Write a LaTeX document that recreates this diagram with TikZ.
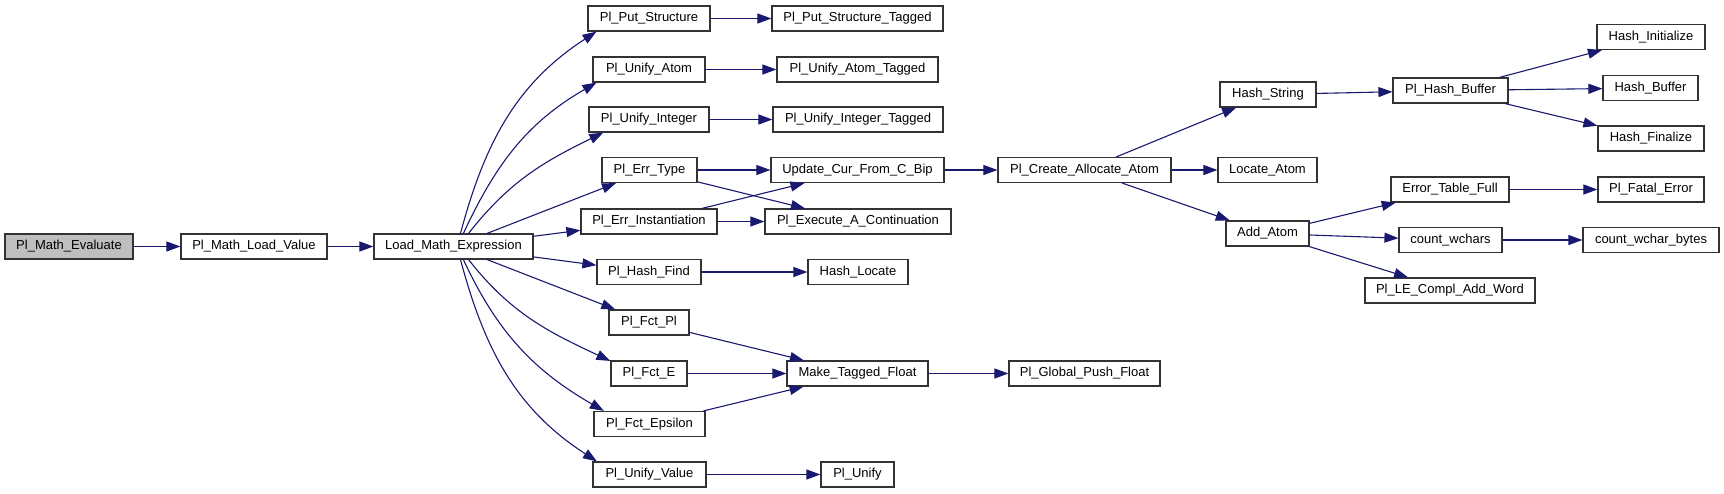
\documentclass[tikz,border=0pt]{standalone}
\usepackage{fontspec}
\setmainfont{Liberation Sans}
\usetikzlibrary{arrows.meta}

\definecolor{edgeblue}{HTML}{191970}
\definecolor{rootgray}{HTML}{BFBFBF}

\begin{document}
\begin{tikzpicture}[x=1pt, y=1pt,
  every node/.style={rectangle, inner sep=0pt, minimum height=25pt, font=\fontsize{13}{15}\selectfont},
  fn/.style={draw=black!80, fill=white, line width=1.2pt},
  root/.style={draw=black!80, fill=rootgray, line width=1.2pt},
  call/.style={draw=edgeblue, line width=1.1pt, -{Triangle[length=14pt, width=10pt]}},
  ]
  \useasboundingbox (0,0) rectangle (1724,-493);
  \node[root, minimum width=128pt] (eval) at (69,-246.5) {Pl\_Math\_Evaluate};
  \node[fn, minimum width=146pt] (loadv) at (254,-246.5) {Pl\_Math\_Load\_Value};
  \node[fn, minimum width=159pt] (expr) at (453.5,-246.5) {Load\_Math\_Expression};
  \node[fn, minimum width=122pt] (puts) at (649,-18.5) {Pl\_Put\_Structure};
  \node[fn, minimum width=171pt] (putst) at (857.5,-18.5) {Pl\_Put\_Structure\_Tagged};
  \node[fn, minimum width=112pt] (ua) at (649,-69.5) {Pl\_Unify\_Atom};
  \node[fn, minimum width=161pt] (uat) at (857.5,-69.5) {Pl\_Unify\_Atom\_Tagged};
  \node[fn, minimum width=120pt] (ui) at (649,-119.5) {Pl\_Unify\_Integer};
  \node[fn, minimum width=170pt] (uit) at (858,-119.5) {Pl\_Unify\_Integer\_Tagged};
  \node[fn, minimum width=95pt] (et) at (649.5,-170) {Pl\_Err\_Type};
  \node[fn, minimum width=173pt] (upd) at (857.5,-170) {Update\_Cur\_From\_C\_Bip};
  \node[fn, minimum width=136pt] (ei) at (649,-221.5) {Pl\_Err\_Instantiation};
  \node[fn, minimum width=186pt] (cont) at (858,-221.5) {Pl\_Execute\_A\_Continuation};
  \node[fn, minimum width=104pt] (hf) at (649,-272) {Pl\_Hash\_Find};
  \node[fn, minimum width=100pt] (hl) at (858,-272) {Hash\_Locate};
  \node[fn, minimum width=80pt] (fpi) at (649,-322.5) {Pl\_Fct\_Pl};
  \node[fn, minimum width=76pt] (fe) at (649,-373.5) {Pl\_Fct\_E};
  \node[fn, minimum width=141pt] (mtf) at (857.5,-373.5) {Make\_Tagged\_Float};
  \node[fn, minimum width=111pt] (feps) at (649.5,-424) {Pl\_Fct\_Epsilon};
  \node[fn, minimum width=113pt] (uv) at (649.5,-474.5) {Pl\_Unify\_Value};
  \node[fn, minimum width=73pt] (un) at (857.5,-474.5) {Pl\_Unify};
  \node[fn, minimum width=151pt] (gpf) at (1084.5,-373.5) {Pl\_Global\_Push\_Float};
  \node[fn, minimum width=173pt] (caa) at (1084.5,-170) {Pl\_Create\_Allocate\_Atom};
  \node[fn, minimum width=96pt] (hs) at (1268,-94.5) {Hash\_String};
  \node[fn, minimum width=99pt] (loc) at (1267.5,-170) {Locate\_Atom};
  \node[fn, minimum width=83pt] (add) at (1267.5,-233.5) {Add\_Atom};
  \node[fn, minimum width=115pt] (hbuf) at (1450.5,-90.5) {Pl\_Hash\_Buffer};
  \node[fn, minimum width=108pt] (hini) at (1651,-37) {Hash\_Initialize};
  \node[fn, minimum width=95pt] (hb) at (1650.5,-88) {Hash\_Buffer};
  \node[fn, minimum width=106pt] (hfin) at (1651,-138.5) {Hash\_Finalize};
  \node[fn, minimum width=118pt] (etf) at (1450,-189.5) {Error\_Table\_Full};
  \node[fn, minimum width=106pt] (fatal) at (1651,-189.5) {Pl\_Fatal\_Error};
  \node[fn, minimum width=103pt] (cw) at (1450.5,-240) {count\_wchars};
  \node[fn, minimum width=136pt] (cwb) at (1651,-240) {count\_wchar\_bytes};
  \node[fn, minimum width=170pt] (lecaw) at (1450,-290.5) {Pl\_LE\_Compl\_Add\_Word};
  \draw[call] (eval) -- (loadv);
  \draw[call] (loadv) -- (expr);
  \draw[call] (expr.62) to[out=75, in=213] (puts.194);
  \draw[call] (expr.53) to[out=65, in=210] (ua.194);
  \draw[call] (expr.41) to[out=52, in=206] (ui.196);
  \draw[call] (expr) -- (et);
  \draw[call] (expr) -- (ei);
  \draw[call] (expr) -- (hf);
  \draw[call] (expr) -- (fpi);
  \draw[call] (expr.-41) to[out=-52, in=155] (fe.162);
  \draw[call] (expr.-53) to[out=-65, in=150] (feps.164);
  \draw[call] (expr.-62) to[out=-75, in=147] (uv.166);
  \draw[call] (puts) -- (putst);
  \draw[call] (ua) -- (uat);
  \draw[call] (ui) -- (uit);
  \draw[call] (et) -- (upd);
  \draw[call] (et) -- (cont);
  \draw[call] (ei) -- (upd);
  \draw[call] (ei) -- (cont);
  \draw[call] (hf) -- (hl);
  \draw[call] (fpi) -- (mtf);
  \draw[call] (fe) -- (mtf);
  \draw[call] (feps) -- (mtf);
  \draw[call] (uv) -- (un);
  \draw[call] (mtf) -- (gpf);
  \draw[call] (upd) -- (caa);
  \draw[call] (caa) -- (hs);
  \draw[call] (caa) -- (loc);
  \draw[call] (caa) -- (add);
  \draw[call] (hs) -- (hbuf);
  \draw[call] (hbuf) -- (hini);
  \draw[call] (hbuf) -- (hb);
  \draw[call] (hbuf) -- (hfin);
  \draw[call] (add) -- (etf);
  \draw[call] (add) -- (cw);
  \draw[call] (add) -- (lecaw);
  \draw[call] (etf) -- (fatal);
  \draw[call] (cw) -- (cwb);
\end{tikzpicture}
\end{document}
